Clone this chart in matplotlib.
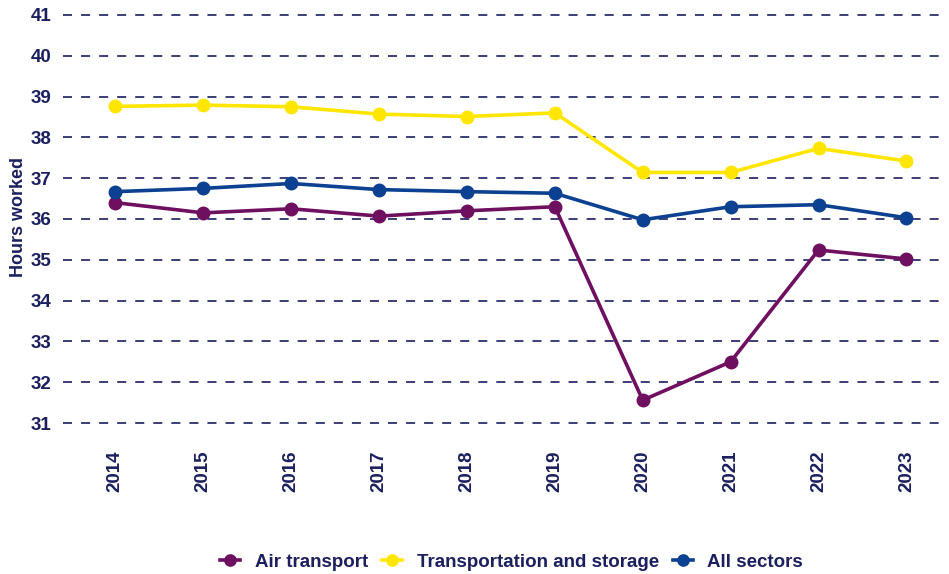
import matplotlib
matplotlib.use('Agg')
import matplotlib.pyplot as plt

years = ['2014', '2015', '2016', '2017', '2018', '2019', '2020', '2021', '2022', '2023']
air_transport = [36.4, 36.15, 36.25, 36.07, 36.2, 36.3, 31.56, 32.5, 35.24, 35.02]
transport_storage = [38.76, 38.79, 38.75, 38.57, 38.51, 38.6, 37.14, 37.14, 37.73, 37.42]
all_sectors = [36.67, 36.75, 36.87, 36.72, 36.67, 36.63, 35.98, 36.3, 36.35, 36.03]

navy = '#1b1f5e'
plt.rcParams['font.family'] = ['Liberation Sans', 'DejaVu Sans']

fig = plt.figure(figsize=(9.49, 5.74), dpi=100)
ax = fig.add_axes([0.066, 0.263, 0.928, 0.711])

x = list(range(len(years)))
series = [
    ('Air transport', air_transport, '#6e0f5f'),
    ('Transportation and storage', transport_storage, '#ffe600'),
    ('All sectors', all_sectors, '#0b4190'),
]
for name, vals, col in series:
    ax.plot(x, vals, color=col, lw=2.6, marker='o', ms=9, label=name, zorder=3)

ax.set_ylim(31, 41)
ax.set_yticks(range(31, 42))
ax.set_xlim(-0.6, 9.42)
ax.set_xticks(x)
ax.set_xticklabels(years, rotation=90)
ax.grid(axis='y', color='#2b2f6b', linestyle=(0, (5, 5)), lw=1.3)
for g in ax.get_ygridlines():
    g.set_clip_on(False)
for s in ax.spines.values():
    s.set_visible(False)
ax.tick_params(length=0, colors=navy, labelsize=13.5, pad=8)
ax.tick_params(axis='x', pad=20)
for lab in ax.get_xticklabels() + ax.get_yticklabels():
    lab.set_fontweight('bold')
ax.set_ylabel('Hours worked', color=navy, fontsize=13, fontweight='bold')
ax.yaxis.set_label_coords(-0.041, 0.505)

leg = fig.legend(loc='lower center', bbox_to_anchor=(0.539, -0.024), ncol=3, frameon=False,
                 fontsize=13.5, handlelength=1.1, columnspacing=0.75, handletextpad=0.75,
                 markerscale=0.9)
for t in leg.get_texts():
    t.set_color(navy)
    t.set_fontweight('bold')

fig.savefig('out.png', dpi=100)
